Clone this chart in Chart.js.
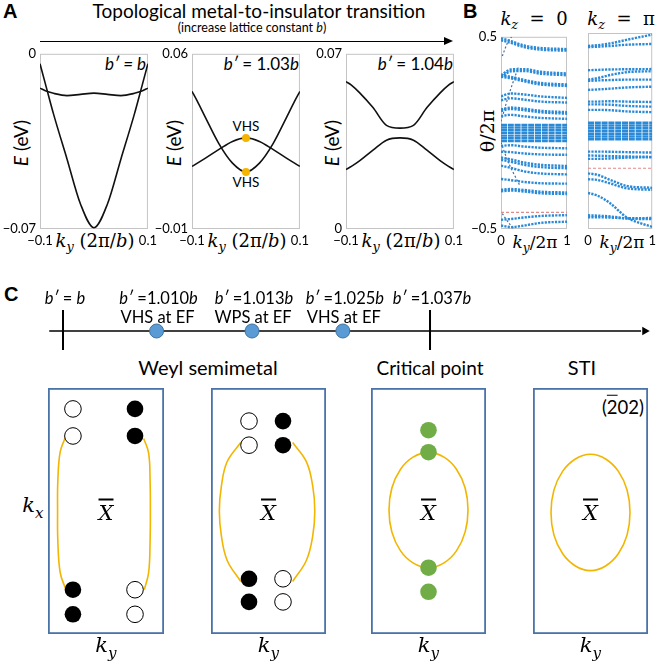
<!DOCTYPE html>
<html>
<head>
<meta charset="utf-8">
<script src="https://cdn.jsdelivr.net/npm/chart.js@4.4.1/dist/chart.umd.min.js"></script>
<style>
  html, body { margin: 0; padding: 0; background: #fff; }
  #fig { position: relative; width: 660px; height: 663px; overflow: hidden; font-family: Lato, 'Open Sans', sans-serif; color: #000; }
  #fig canvas { position: absolute; }
  .t { position: absolute; white-space: nowrap; line-height: 1; transform: translate(-50%, -50%); }
  .tr { position: absolute; white-space: nowrap; line-height: 1; transform: translate(-100%, -50%); }
  .rot { transform: translate(-50%, -50%) rotate(-90deg); }
  .m { font-family: 'DejaVu Serif', 'Liberation Serif', serif; font-style: italic; }
  .up { font-style: normal; }
  .pl { position: absolute; font-family: Arial, 'Liberation Sans', sans-serif; font-weight: bold; font-size: 20px; line-height: 1; }
  .ov { text-decoration: overline; }
  sub { font-size: 0.72em; }
</style>
</head>
<body>
<div id="fig">
  <!-- panel A header -->
  <div class="pl" style="left:3px;top:1px;">A</div>
  <div class="t" style="left:259px;top:10px;font-size:19px;">Topological metal-to-insulator transition</div>
  <div class="t" style="left:252px;top:28px;font-size:12.5px;">(increase lattice constant <i>b</i>)</div>
  <div style="position:absolute;left:40px;top:40.5px;width:406px;height:1.6px;background:#000;"></div>
  <div style="position:absolute;left:444px;top:37.3px;width:0;height:0;border-left:9px solid #000;border-top:4px solid transparent;border-bottom:4px solid transparent;"></div>

  <div class="tr" style="left:146px;top:63px;font-size:17px;font-style:italic;">b′ = b</div>
  <div class="tr" style="left:299px;top:63px;font-size:17px;"><i>b′</i> = 1.03<i>b</i></div>
  <div class="tr" style="left:453px;top:63px;font-size:17px;"><i>b′</i> = 1.04<i>b</i></div>
  <div class="t rot" style="left:20px;top:143px;font-size:19px;"><i>E</i> (eV)</div>
  <div class="t rot" style="left:173px;top:143px;font-size:19px;"><i>E</i> (eV)</div>
  <div class="t rot" style="left:331px;top:143px;font-size:19px;"><i>E</i> (eV)</div>
  <div class="t m" style="left:95px;top:243px;font-size:18px;">k<sub>y</sub> <span class="up">(2π/</span>b<span class="up">)</span></div>
  <div class="t m" style="left:247px;top:243px;font-size:18px;">k<sub>y</sub> <span class="up">(2π/</span>b<span class="up">)</span></div>
  <div class="t m" style="left:401px;top:243px;font-size:18px;">k<sub>y</sub> <span class="up">(2π/</span>b<span class="up">)</span></div>
  <div class="t" style="left:246px;top:127px;font-size:13.5px;">VHS</div>
  <div class="t" style="left:246px;top:183px;font-size:13.5px;">VHS</div>

  <!-- panel B labels -->
  <div class="pl" style="left:463px;top:1px;">B</div>
  <div class="t m" style="left:534px;top:21px;font-size:18px;">k<sub>z</sub> <span class="up">&nbsp;=&nbsp; 0</span></div>
  <div class="t m" style="left:621px;top:21px;font-size:18px;">k<sub>z</sub> <span class="up">&nbsp;=&nbsp; π</span></div>
  <div class="t rot" style="left:487px;top:131px;font-size:19px;font-family:'DejaVu Serif',serif;">θ/2π</div>
  <div class="t m" style="left:535px;top:244px;font-size:17px;">k<sub>y</sub><span class="up">/2π</span></div>
  <div class="t m" style="left:622px;top:244px;font-size:17px;">k<sub>y</sub><span class="up">/2π</span></div>

  <!-- panel C labels -->
  <div class="pl" style="left:4px;top:284px;">C</div>
  <div class="t" style="left:208px;top:367px;font-size:20px;">Weyl semimetal</div>
  <div class="t" style="left:430px;top:367px;font-size:19px;">Critical point</div>
  <div class="t" style="left:582px;top:367px;font-size:20px;">STI</div>
  <div class="tr" style="left:644px;top:407px;font-size:18.5px;">(<span class="ov">2</span>02)</div>
  <div class="t m" style="left:33px;top:508px;font-size:21px;">k<sub>x</sub></div>
</div>

<script>
// ========================================
// 資料
// ========================================

// Panel A: two bands E(ky) near the Fermi level
const kyGrid = [-0.1, -0.09, -0.075, -0.05, -0.025, 0, 0.025, 0.05, 0.075, 0.09, 0.1];
const bandA1Deep = [-0.004, -0.012, -0.024, -0.042, -0.060, -0.0695, -0.060, -0.042, -0.024, -0.012, -0.004];
const bandA1Flat = [-0.0137, -0.0148, -0.0158, -0.0167, -0.0162, -0.0157, -0.0162, -0.0167, -0.0158, -0.0148, -0.0137];
const bandA2Elec = [0.045, 0.041, 0.0345, 0.024, 0.0163, 0.0128, 0.0163, 0.024, 0.0345, 0.041, 0.045];
const bandA2Hole = [0.015, 0.0163, 0.0183, 0.0218, 0.0250, 0.0264, 0.0250, 0.0218, 0.0183, 0.0163, 0.015];
const bandA3Cond = [0.0589, 0.0575, 0.0545, 0.0485, 0.0414, 0.0403, 0.0414, 0.0485, 0.0545, 0.0575, 0.0589];
const bandA3Val = [0.0238, 0.025, 0.0272, 0.0315, 0.0355, 0.0364, 0.0355, 0.0315, 0.0272, 0.025, 0.0238];
const vhsPoints = [[0, 0.0264], [0, 0.0128]];
const bandRanges = [[-0.07, 0], [-0.01, 0.06], [0, 0.07]];

// Panel B: Wilson loop bands θ/2π versus ky/2π
const wilsonK = [0, 0.15, 0.35, 0.6, 1];
const wilsonKz0 = [
  [0.492, 0.478, 0.455, 0.442, 0.436],
  [0.482, 0.468, 0.446, 0.433, 0.428],
  [0.300, 0.330, 0.332, 0.318, 0.309],
  [0.290, 0.320, 0.322, 0.308, 0.300],
  [0.300, 0.292, 0.276, 0.260, 0.252],
  [0.292, 0.284, 0.268, 0.252, 0.244],
  [0.190, 0.205, 0.200, 0.190, 0.182],
  [0.170, 0.180, 0.173, 0.163, 0.158],
  [0.122, 0.132, 0.126, 0.115, 0.108],
  [0.114, 0.124, 0.118, 0.107, 0.100],
  [0.088, 0.094, 0.086, 0.078, 0.073],
  [-0.068, -0.064, -0.071, -0.077, -0.080],
  [-0.098, -0.100, -0.107, -0.112, -0.114],
  [-0.128, -0.138, -0.154, -0.166, -0.172],
  [-0.140, -0.150, -0.166, -0.178, -0.184],
  [-0.170, -0.182, -0.200, -0.211, -0.216],
  [-0.240, -0.246, -0.255, -0.262, -0.264],
  [-0.296, -0.292, -0.297, -0.306, -0.310],
  [-0.304, -0.300, -0.305, -0.314, -0.318],
  [-0.452, -0.448, -0.440, -0.432, -0.428],
  [-0.482, -0.490, -0.482, -0.468, -0.462]
];
const wilsonKz0Cross = [
  [[0, 0.06], [0.12, 0.20], [0.26, 0.34]],
  [[0.02, 0.40], [0.10, 0.47], [0.16, 0.50]],
  [[0, -0.05], [0.12, -0.16], [0.28, -0.27]],
  [[0.02, -0.42], [0.12, -0.47], [0.2, -0.50]]
];
const wilsonKzPi = [
  [0.434, 0.438, 0.447, 0.465, 0.492],
  [0.428, 0.430, 0.434, 0.440, 0.444],
  [0.310, 0.312, 0.314, 0.315, 0.316],
  [0.262, 0.270, 0.286, 0.300, 0.305],
  [0.256, 0.258, 0.260, 0.262, 0.262],
  [0.210, 0.212, 0.216, 0.222, 0.226],
  [0.150, 0.150, 0.152, 0.150, 0.148],
  [0.136, 0.136, 0.134, 0.128, 0.124],
  [0.108, 0.108, 0.106, 0.100, 0.096],
  [-0.105, -0.105, -0.106, -0.108, -0.110],
  [-0.125, -0.126, -0.128, -0.130, -0.132],
  [-0.142, -0.142, -0.140, -0.136, -0.134],
  [-0.216, -0.224, -0.250, -0.280, -0.290],
  [-0.246, -0.250, -0.268, -0.292, -0.300],
  [-0.316, -0.330, -0.370, -0.440, -0.490],
  [-0.430, -0.432, -0.436, -0.446, -0.450],
  [-0.440, -0.440, -0.442, -0.445, -0.444]
];
const wilsonDense = [-0.042, -0.028, -0.014, 0, 0.014, 0.028, 0.042];
const fermiLevel = [-0.413, -0.19];   // red dashed reference, kz = 0 and kz = π

// Panel C: timeline of b'
const stageLabels = ['b′ = b', 'b′ =1.010b', 'b′ =1.013b', 'b′ =1.025b', 'b′ =1.037b'];
const stageNotes = ['', 'VHS at EF', 'WPS at EF', 'VHS at EF', ''];
const stagePos = [0, 1.02, 2.06, 3.05, 4];

// Panel C: surface Fermi arcs / Weyl points (ky, kx) in box units
const weylOpenA = [[-0.57, 0.83], [-0.57, 0.61], [0.5, -0.64], [0.5, -0.84]];
const weylFilledA = [[0.5, 0.83], [0.5, 0.61], [-0.57, -0.64], [-0.57, -0.84]];
const weylArcA = [
  [[-0.70, 0.60], [-0.79, 0.48], [-0.83, 0.25], [-0.835, 0], [-0.83, -0.25], [-0.79, -0.50], [-0.70, -0.63]],
  [[0.65, 0.59], [0.735, 0.47], [0.76, 0.25], [0.765, 0], [0.76, -0.25], [0.735, -0.50], [0.66, -0.64]]
];
const weylOpenB = [[-0.339, 0.731], [-0.339, 0.535], [0.252, -0.551], [0.252, -0.739]];
const weylFilledB = [[0.252, 0.731], [0.252, 0.535], [-0.339, -0.551], [-0.339, -0.739]];
const weylArcB = [
  [[-0.483, 0.557], [-0.72, 0.40], [-0.82, 0.2], [-0.855, 0], [-0.82, -0.2], [-0.72, -0.40], [-0.483, -0.573]],
  [[0.42, 0.557], [0.66, 0.40], [0.77, 0.2], [0.805, 0], [0.77, -0.2], [0.66, -0.40], [0.42, -0.573]]
];
const criticalDots = [[0, 0.657], [0, 0.478], [0, -0.461], [0, -0.657]];
// ellipse read at 8 points, closed: ul, top, ur, r, lr, b, ll, l, ul, top, ur
const criticalLoop = [[-0.486, 0.340], [0, 0.477], [0.486, 0.340], [0.687, 0.008], [0.486, -0.324], [0, -0.461],
  [-0.486, -0.324], [-0.687, 0.008], [-0.486, 0.340], [0, 0.477], [0.486, 0.340]];
const stiLoop = [[-0.486, 0.322], [0, 0.461], [0.486, 0.322], [0.687, -0.012], [0.486, -0.346], [0, -0.485],
  [-0.486, -0.346], [-0.687, -0.012], [-0.486, 0.322], [0, 0.461], [0.486, 0.322]];

// ========================================
// 共用設定
// ========================================
Chart.defaults.font.family = 'Lato, "Open Sans", sans-serif';
Chart.defaults.color = '#000';
Chart.defaults.animation = false;

const COLORS = {
  band: '#111',
  frame: '#c4c4c4',
  vhs: '#f5b400',
  wilson: '#2a8ad8',
  wilsonThin: '#4a6f9c',
  fermi: '#e08a8a',
  box: '#4a74a8',
  arc: '#f2b600',
  green: '#70ad47',
  stage: '#5b9bd5',
  stageEdge: '#41719c'
};

const fig = document.getElementById('fig');

function makeCanvas(left, top, w, h) {
  const c = document.createElement('canvas');
  c.width = w; c.height = h;
  c.style.left = left + 'px'; c.style.top = top + 'px';
  c.style.width = w + 'px'; c.style.height = h + 'px';
  fig.appendChild(c);
  return c;
}

function addText(html, x, y, style) {
  const d = document.createElement('div');
  d.className = 't';
  d.innerHTML = html;
  d.style.left = x + 'px'; d.style.top = y + 'px';
  Object.assign(d.style, style || {});
  fig.appendChild(d);
}

const pts = arr => arr.map(p => ({ x: p[0], y: p[1] }));
const zip = (xs, ys) => xs.map((x, i) => ({ x: x, y: ys[i] }));
const fmt = v => (v < 0 ? '−' : '') + Math.abs(v);

// 框線外掛
const frame = {
  id: 'frame',
  beforeDatasetsDraw(chart, args, o) {
    const a = chart.chartArea, ctx = chart.ctx, w = o.width || 1;
    ctx.save();
    ctx.strokeStyle = o.color;
    ctx.lineWidth = w;
    ctx.strokeRect(a.left + w / 2, a.top + w / 2, a.right - a.left - w, a.bottom - a.top - w);
    ctx.restore();
  }
};

function edgeAxis(min, max, opts) {
  return Object.assign({
    type: 'linear', min: min, max: max,
    grid: { display: false, drawTicks: false },
    border: { display: false },
    ticks: { padding: 4, font: { size: 13 }, callback: fmt },
    afterBuildTicks: s => { s.ticks = [{ value: min }, { value: max }]; }
  }, opts);
}

function plotOptions(xr, yr, showY, pad) {
  const y = showY
    ? edgeAxis(yr[0], yr[1], { afterFit: s => { s.width = 40; } })
    : edgeAxis(yr[0], yr[1], { display: false });
  return {
    responsive: false,
    layout: { autoPadding: false, padding: pad },
    plugins: { legend: { display: false }, tooltip: { enabled: false }, frame: { color: COLORS.frame, width: 1 } },
    scales: {
      x: edgeAxis(xr[0], xr[1], { afterFit: s => { s.height = 24; } }),
      y: y
    }
  };
}

function bandLine(ys) {
  return { data: zip(kyGrid, ys), borderColor: COLORS.band, borderWidth: 1.6, pointRadius: 0, cubicInterpolationMode: 'monotone' };
}

// ========================================
// Panel A
// ========================================
const bandPanels = [
  { left: 0, bands: [bandA1Deep, bandA1Flat] },
  { left: 152, bands: [bandA2Elec, bandA2Hole], vhs: true },
  { left: 306, bands: [bandA3Cond, bandA3Val] }
];

bandPanels.forEach((p, i) => {
  const datasets = p.bands.map(bandLine);
  if (p.vhs) {
    datasets.unshift({ data: pts(vhsPoints), showLine: false, pointRadius: 4, pointBackgroundColor: COLORS.vhs, pointBorderWidth: 0 });
  }
  new Chart(makeCanvas(p.left, 42, 161, 211), {
    type: 'line',
    data: { datasets: datasets },
    options: plotOptions([-0.1, 0.1], bandRanges[i], true, { top: 8, right: 13, left: 0, bottom: 0 }),
    plugins: [frame]
  });
});

// ========================================
// Panel B
// ========================================
function wilsonSets(curves, cross, eF) {
  const sets = [];
  wilsonDense.forEach(t => sets.push({
    data: [{ x: 0, y: t }, { x: 1, y: t }], borderColor: COLORS.wilson, borderWidth: 2.4, borderDash: [6, 0.8], pointRadius: 0
  }));
  curves.forEach(c => sets.push({
    data: zip(wilsonK, c), borderColor: COLORS.wilson, borderWidth: 2.4, borderDash: [2.2, 1.2],
    pointRadius: 0, cubicInterpolationMode: 'monotone'
  }));
  (cross || []).forEach(c => sets.push({
    data: pts(c), borderColor: COLORS.wilsonThin, borderWidth: 1.2, borderDash: [2, 2], pointRadius: 0, tension: 0.3
  }));
  sets.push({ data: [{ x: 0, y: eF }, { x: 1, y: eF }], borderColor: COLORS.fermi, borderWidth: 1.2, borderDash: [3, 2], pointRadius: 0 });
  return sets;
}

new Chart(makeCanvas(461, 25, 114, 228), {
  type: 'line',
  data: { datasets: wilsonSets(wilsonKz0, wilsonKz0Cross, fermiLevel[0]) },
  options: plotOptions([0, 1], [-0.5, 0.5], true, { top: 8, right: 8, left: 0, bottom: 0 }),
  plugins: [frame]
});

new Chart(makeCanvas(580, 25, 80, 228), {
  type: 'line',
  data: { datasets: wilsonSets(wilsonKzPi, null, fermiLevel[1]) },
  options: plotOptions([0, 1], [-0.5, 0.5], false, { top: 8, right: 6, left: 8, bottom: 0 }),
  plugins: [frame]
});

// ========================================
// Panel C: timeline
// ========================================
const timeline = new Chart(makeCanvas(40, 305, 615, 53), {
  type: 'line',
  data: {
    datasets: [
      { data: pts(stagePos.slice(1, 4).map(p => [p, 0])), showLine: false, pointRadius: 7,
        pointBackgroundColor: COLORS.stage, pointBorderColor: COLORS.stageEdge, pointBorderWidth: 1, order: 0 },
      { data: [{ x: 6.34, y: 0 }], showLine: false, pointStyle: 'triangle', pointRotation: 90, pointRadius: 5,
        pointBackgroundColor: '#000', pointBorderColor: '#000', pointBorderWidth: 0, order: 1 },
      { data: [{ x: -0.15, y: 0 }, { x: 6.3, y: 0 }], borderColor: '#000', borderWidth: 1.6, pointRadius: 0, order: 2 },
      { data: [{ x: stagePos[0], y: 1.05 }, { x: stagePos[0], y: -0.95 }], borderColor: '#000', borderWidth: 2, pointRadius: 0, order: 2 },
      { data: [{ x: stagePos[4], y: 1.05 }, { x: stagePos[4], y: -0.95 }], borderColor: '#000', borderWidth: 2, pointRadius: 0, order: 2 }
    ]
  },
  options: {
    responsive: false,
    layout: { autoPadding: false, padding: 0 },
    plugins: { legend: { display: false }, tooltip: { enabled: false } },
    scales: {
      x: { type: 'linear', display: false, min: -0.2507, max: 6.452 },
      y: { type: 'linear', display: false, min: -1.35, max: 1.3 }
    }
  }
});

stagePos.forEach((p, i) => {
  const x = 40 + timeline.scales.x.getPixelForValue(p);
  const lab = stageLabels[i].replace(/b/g, '<i>b</i>').replace('′', '<i>′</i>');
  addText(lab, x + 2, 298, { fontSize: '16.5px' });
  if (stageNotes[i]) addText(stageNotes[i], x + 1, 317, { fontSize: '16.5px' });
});

// ========================================
// Panel C: surface Fermi surfaces
// ========================================
function dotSet(arr, fill, edge) {
  return { data: pts(arr), showLine: false, pointRadius: 8.3, pointBackgroundColor: fill,
    pointBorderColor: edge, pointBorderWidth: edge ? 1 : 0, order: 0 };
}
function arcSet(arr) {
  return { data: pts(arr), borderColor: COLORS.arc, borderWidth: 1.6, pointRadius: 0, tension: 0.4, order: 1 };
}
function loopSet(arr) {
  const last = arr.length - 2;
  return {
    data: pts(arr), borderWidth: 1.6, pointRadius: 0, tension: 0.38, order: 1, borderColor: COLORS.arc,
    segment: { borderColor: ctx => (ctx.p0DataIndex === 0 || ctx.p0DataIndex === last) ? 'rgba(0,0,0,0)' : COLORS.arc }
  };
}

const fermiBoxes = [
  { left: 48, width: 116, sets: [dotSet(weylOpenA, '#fff', '#000'), dotSet(weylFilledA, '#000'), arcSet(weylArcA[0]), arcSet(weylArcA[1])] },
  { left: 211, width: 115, sets: [dotSet(weylOpenB, '#fff', '#000'), dotSet(weylFilledB, '#000'), arcSet(weylArcB[0]), arcSet(weylArcB[1])] },
  { left: 371, width: 115, sets: [dotSet(criticalDots, COLORS.green), loopSet(criticalLoop)] },
  { left: 533, width: 115, sets: [loopSet(stiLoop)] }
];

fermiBoxes.forEach(b => {
  new Chart(makeCanvas(b.left, 388, b.width, 246), {
    type: 'line',
    data: { datasets: b.sets },
    options: {
      responsive: false,
      layout: { autoPadding: false, padding: 0 },
      plugins: { legend: { display: false }, tooltip: { enabled: false }, frame: { color: COLORS.box, width: 1.8 } },
      scales: {
        x: { type: 'linear', display: false, min: -1, max: 1 },
        y: { type: 'linear', display: false, min: -1, max: 1 }
      }
    },
    plugins: [frame]
  });
  const cx = b.left + b.width / 2;
  addText('<span class="ov">X</span>', cx, 513, { fontSize: '21px', fontFamily: "'DejaVu Serif', serif", fontStyle: 'italic' });
  addText('k<sub>y</sub>', cx, 648, { fontSize: '21px', fontFamily: "'DejaVu Serif', serif", fontStyle: 'italic' });
});
</script>
</body>
</html>
